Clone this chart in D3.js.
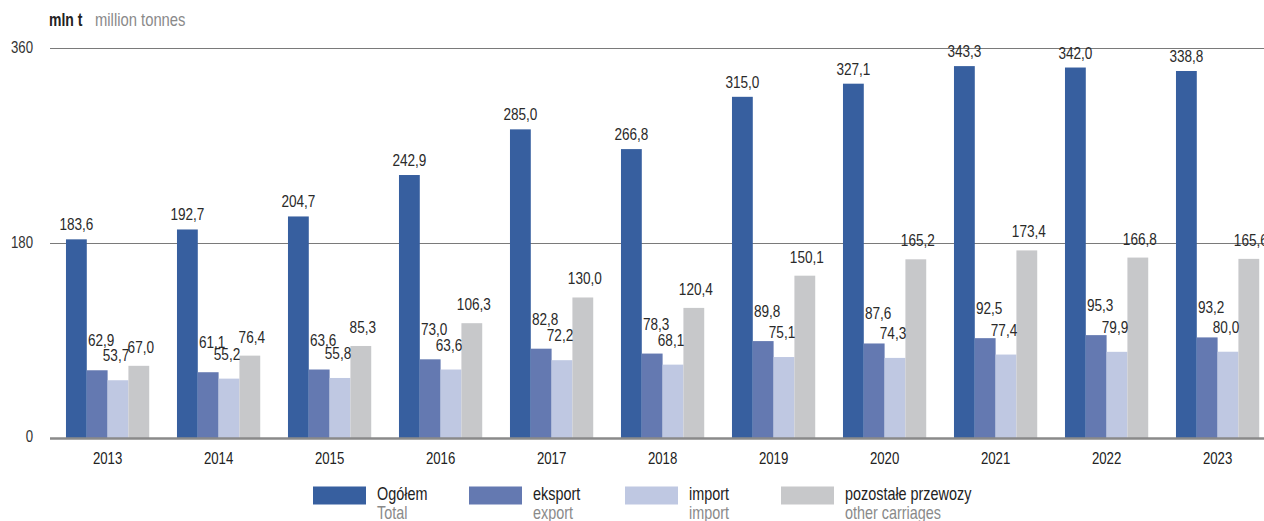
<!DOCTYPE html>
<html><head><meta charset="utf-8">
<script src="https://cdn.jsdelivr.net/npm/d3@7"></script>
<style>
html,body{margin:0;padding:0;background:#fff;}
svg{display:block;font-family:"Liberation Sans",Arial,sans-serif;}
</style></head>
<body>
<svg id="chart" width="1264" height="521"></svg>
<script>
const years = ["2013","2014","2015","2016","2017","2018","2019","2020","2021","2022","2023"];
const total = [183.6,192.7,204.7,242.9,285.0,266.8,315.0,327.1,343.3,342.0,338.8];
const exportV = [62.9,61.1,63.6,73.0,82.8,78.3,89.8,87.6,92.5,95.3,93.2];
const importV = [53.7,55.2,55.8,63.6,72.2,68.1,75.1,74.3,77.4,79.9,80.0];
const other = [67.0,76.4,85.3,106.3,130.0,120.4,150.1,165.2,173.4,166.8,165.6];
const seriesKeys = ["total","export","import","other"];
const seriesPl = ["Ogółem","eksport","import","pozostałe przewozy"];
const seriesEn = ["Total","export","import","other carriages"];
const yTicks = [0,180,360];

const colors = {total:"#375F9F", export:"#6479B1", import:"#BFC8E2", other:"#C7C8CA"};
const labelDy = {total:-9, export:-24, import:-19, other:-13};
const labelDx = {total:0, export:4, import:-2, other:2};
const SX = 0.8; // horizontal condensing of text

const data = years.map((y,i)=>({year:y, total:total[i], export:exportV[i], import:importV[i], other:other[i]}));

const svg = d3.select("#chart");
const x0 = d3.scaleBand().domain(years).range([52.1, 52.1+111*11]).paddingInner(0.25).paddingOuter(0.125);
const x1 = d3.scaleBand().domain(seriesKeys).range([0, x0.bandwidth()]).padding(0);
const y = d3.scaleLinear().domain([0,360]).range([438.5, 48]);
const fmt = v => d3.format(".1f")(v).replace(".", ",");
const at = (x,yy) => `translate(${x},${yy}) scale(${SX},1)`;

// gridlines
svg.append("g").selectAll("line").data(yTicks.filter(t=>t>0)).join("line")
  .attr("x1",50).attr("x2",1264)
  .attr("y1",d=>Math.round(y(d))+0.5).attr("y2",d=>Math.round(y(d))+0.5)
  .attr("stroke","#7a7a7a").attr("stroke-width",1);

// y tick labels
svg.append("g").selectAll("text").data(yTicks).join("text")
  .attr("transform",d=>at(33, y(d)+(d===0?3:5)))
  .attr("text-anchor","end").attr("font-size",16.5).attr("fill","#333")
  .text(d=>d);

// bars
const groups = svg.append("g").selectAll("g").data(data).join("g")
  .attr("transform",d=>`translate(${x0(d.year)},0)`);
groups.selectAll("rect").data(d=>seriesKeys.map(k=>({key:k,value:d[k]}))).join("rect")
  .attr("x",d=>x1(d.key)).attr("width",x1.bandwidth())
  .attr("y",d=>y(d.value)).attr("height",d=>y(0)-y(d.value))
  .attr("fill",d=>colors[d.key]);
groups.selectAll("text").data(d=>seriesKeys.map(k=>({key:k,value:d[k]}))).join("text")
  .attr("transform",d=>at(x1(d.key)+x1.bandwidth()/2+labelDx[d.key], y(d.value)+labelDy[d.key]))
  .attr("text-anchor","middle").attr("font-size",17).attr("fill","#2a2a2a")
  .text(d=>fmt(d.value));

// baseline
svg.append("line").attr("x1",50).attr("x2",1264).attr("y1",y(0)).attr("y2",y(0))
  .attr("stroke","#8a8a8a").attr("stroke-width",2.5);

// x axis labels
svg.append("g").selectAll("text").data(years).join("text")
  .attr("transform",d=>at(x0(d)+x0.bandwidth()/2, 464))
  .attr("text-anchor","middle").attr("font-size",16.5).attr("fill","#222")
  .text(d=>d);

// unit header
svg.append("text").attr("transform",at(49,26)).attr("font-size",17.5)
  .attr("fill","#222").attr("font-weight","bold").text("mln t");
svg.append("text").attr("transform",at(95,26)).attr("font-size",18.5)
  .attr("fill","#8a8a8a").text("million tonnes");

// legend
const leg = svg.append("g").selectAll("g").data(seriesKeys).join("g")
  .attr("transform",(d,i)=>`translate(${313+i*156},486.5)`);
leg.append("rect").attr("width",53).attr("height",18).attr("fill",d=>colors[d]);
leg.append("text").attr("transform",at(64,13)).attr("font-size",18).attr("fill","#222")
  .text((d,i)=>seriesPl[i]);
leg.append("text").attr("transform",at(64,32)).attr("font-size",18).attr("fill","#8a8a8a")
  .text((d,i)=>seriesEn[i]);
</script>
</body></html>
